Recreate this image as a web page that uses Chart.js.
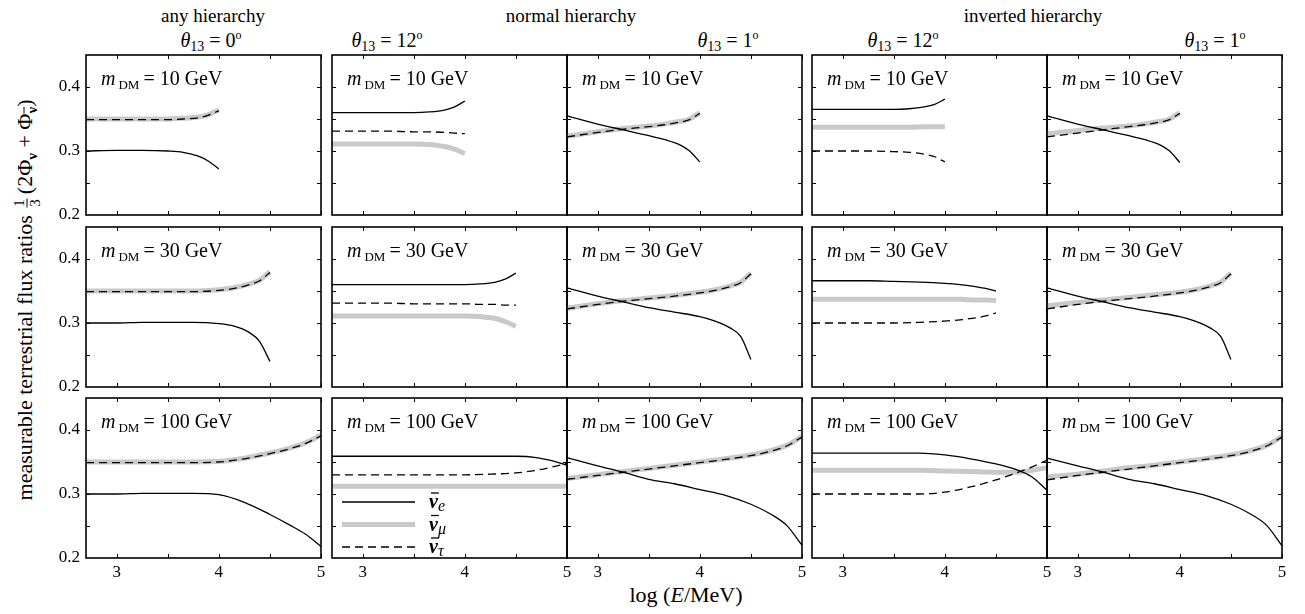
<!DOCTYPE html>
<html><head><meta charset="utf-8">
<script src="https://cdn.jsdelivr.net/npm/chart.js@4/dist/chart.umd.min.js"></script>
<style>
html,body{margin:0;padding:0;background:#fff;}
body{width:1305px;height:614px;position:relative;overflow:hidden;font-family:"Liberation Serif","Times New Roman",serif;color:#000;}
.lbl{position:absolute;white-space:nowrap;transform:translate(-50%,-50%);line-height:1;}
.cv{position:absolute;}
.th i{font-style:italic;}
.th sub{font-size:14px;vertical-align:-4px;line-height:0;}
.th sup{font-size:12px;vertical-align:8px;line-height:0;}
.frac{display:inline-flex;flex-direction:column;align-items:center;font-size:15px;vertical-align:middle;line-height:1;margin:0 4px 0 2px;}
.frac span:first-child{border-bottom:1px solid #000;padding:0 1px;}
#ytitle sub{font-size:15px;vertical-align:-5px;line-height:0;font-weight:bold;}
.ov{text-decoration:overline;}
</style></head><body>
<div class="lbl" style="left:213px;top:15px;font-size:19px">any hierarchy</div>
<div class="lbl" style="left:571px;top:15px;font-size:19px">normal hierarchy</div>
<div class="lbl" style="left:1033px;top:15px;font-size:19px">inverted hierarchy</div>
<div class="lbl th" style="left:211px;top:40px;font-size:20px"><i>θ</i><sub>13</sub> = 0<sup>o</sup></div>
<div class="lbl th" style="left:387px;top:40px;font-size:20px"><i>θ</i><sub>13</sub> = 12<sup>o</sup></div>
<div class="lbl th" style="left:728px;top:40px;font-size:20px"><i>θ</i><sub>13</sub> = 1<sup>o</sup></div>
<div class="lbl th" style="left:903px;top:40px;font-size:20px"><i>θ</i><sub>13</sub> = 12<sup>o</sup></div>
<div class="lbl th" style="left:1215px;top:40px;font-size:20px"><i>θ</i><sub>13</sub> = 1<sup>o</sup></div>
<div class="lbl" id="ytitle" style="left:27px;top:300px;font-size:22px;transform:translate(-50%,-50%) rotate(-90deg)">measurable terrestrial flux ratios&nbsp;<span class="frac"><span>1</span><span>3</span></span>(2Φ<sub>ν</sub> + Φ<sub class="ov">ν</sub>)</div>
<div class="lbl" style="left:686px;top:595px;font-size:22px">log (<i>E</i>/MeV)</div>
<script>
// ---- x sample positions (log10 E/MeV) ----
const X_10  = [2.7, 3.0, 3.25, 3.5, 3.65, 3.8, 3.9, 4.0];
const X_30  = [2.7, 3.0, 3.25, 3.5, 3.75, 4.0, 4.15, 4.3, 4.4, 4.5];
const X_100 = [2.7, 3.0, 3.25, 3.5, 3.75, 4.0, 4.25, 4.5, 4.7, 4.85, 5.0];

// ---- m_DM = 10 GeV ----
const any0_10_e   = [0.300,0.301,0.301,0.300,0.298,0.292,0.284,0.272];
const any0_10_mu  = [0.350,0.350,0.350,0.350,0.351,0.353,0.357,0.364];
const any0_10_tau = [0.349,0.349,0.349,0.349,0.350,0.352,0.356,0.363];
const nh12_10_e   = [0.360,0.360,0.360,0.360,0.361,0.364,0.369,0.378];
const nh12_10_mu  = [0.311,0.311,0.311,0.311,0.310,0.307,0.303,0.296];
const nh12_10_tau = [0.331,0.331,0.331,0.330,0.330,0.329,0.328,0.327];
const nh1_10_e    = [0.355,0.342,0.333,0.324,0.318,0.310,0.300,0.283];
const nh1_10_mu   = [0.323,0.330,0.335,0.339,0.342,0.346,0.350,0.360];
const nh1_10_tau  = [0.322,0.329,0.334,0.338,0.341,0.345,0.349,0.359];
const ih12_10_e   = [0.365,0.365,0.365,0.365,0.366,0.369,0.373,0.381];
const ih12_10_mu  = [0.337,0.337,0.337,0.337,0.337,0.338,0.338,0.338];
const ih12_10_tau = [0.300,0.300,0.300,0.299,0.298,0.295,0.291,0.283];
const ih1_10_e    = [0.355,0.342,0.333,0.324,0.318,0.310,0.300,0.282];
const ih1_10_mu   = [0.327,0.332,0.336,0.339,0.342,0.346,0.350,0.360];
const ih1_10_tau  = [0.322,0.328,0.333,0.338,0.341,0.345,0.349,0.359];

// ---- m_DM = 30 GeV ----
const any0_30_e   = [0.300,0.300,0.301,0.301,0.301,0.299,0.295,0.285,0.271,0.240];
const any0_30_mu  = [0.350,0.350,0.350,0.350,0.350,0.352,0.355,0.361,0.367,0.380];
const any0_30_tau = [0.349,0.349,0.349,0.349,0.349,0.351,0.354,0.360,0.366,0.379];
const nh12_30_e   = [0.360,0.360,0.360,0.360,0.360,0.360,0.361,0.364,0.369,0.378];
const nh12_30_mu  = [0.311,0.311,0.311,0.311,0.311,0.311,0.310,0.307,0.302,0.295];
const nh12_30_tau = [0.331,0.331,0.331,0.330,0.330,0.330,0.329,0.329,0.328,0.328];
const nh1_30_e    = [0.355,0.342,0.333,0.324,0.317,0.310,0.303,0.292,0.279,0.243];
const nh1_30_mu   = [0.323,0.330,0.335,0.339,0.343,0.348,0.352,0.358,0.364,0.378];
const nh1_30_tau  = [0.322,0.329,0.334,0.338,0.342,0.347,0.351,0.357,0.363,0.377];
const ih12_30_e   = [0.366,0.366,0.366,0.365,0.364,0.362,0.360,0.357,0.354,0.350];
const ih12_30_mu  = [0.337,0.337,0.337,0.337,0.337,0.337,0.337,0.336,0.336,0.335];
const ih12_30_tau = [0.300,0.300,0.300,0.300,0.301,0.303,0.305,0.308,0.311,0.316];
const ih1_30_e    = [0.355,0.342,0.333,0.324,0.317,0.310,0.303,0.292,0.279,0.243];
const ih1_30_mu   = [0.327,0.332,0.336,0.340,0.344,0.348,0.352,0.358,0.364,0.378];
const ih1_30_tau  = [0.322,0.329,0.334,0.338,0.342,0.347,0.351,0.357,0.363,0.377];

// ---- m_DM = 100 GeV ----
const any0_100_e   = [0.300,0.300,0.301,0.301,0.301,0.299,0.287,0.268,0.251,0.237,0.218];
const any0_100_mu  = [0.350,0.350,0.350,0.350,0.350,0.351,0.356,0.364,0.372,0.380,0.392];
const any0_100_tau = [0.349,0.349,0.349,0.349,0.349,0.350,0.355,0.363,0.371,0.379,0.391];
const nh12_100_e   = [0.359,0.359,0.359,0.359,0.359,0.359,0.359,0.359,0.357,0.352,0.345];
const nh12_100_mu  = [0.312,0.312,0.312,0.312,0.312,0.312,0.312,0.312,0.312,0.312,0.312];
const nh12_100_tau = [0.330,0.330,0.330,0.330,0.330,0.330,0.331,0.333,0.337,0.342,0.348];
const nh1_100_e    = [0.357,0.344,0.334,0.323,0.316,0.307,0.298,0.284,0.268,0.251,0.220];
const nh1_100_mu   = [0.324,0.330,0.335,0.340,0.345,0.350,0.355,0.361,0.368,0.376,0.390];
const nh1_100_tau  = [0.323,0.329,0.334,0.339,0.344,0.349,0.354,0.360,0.367,0.375,0.389];
const ih12_100_e   = [0.364,0.364,0.364,0.364,0.364,0.361,0.355,0.347,0.338,0.327,0.306];
const ih12_100_mu  = [0.337,0.337,0.337,0.337,0.337,0.336,0.335,0.334,0.334,0.337,0.341];
const ih12_100_tau = [0.300,0.300,0.300,0.300,0.300,0.303,0.311,0.322,0.333,0.342,0.353];
const ih1_100_e    = [0.356,0.344,0.334,0.323,0.316,0.307,0.298,0.284,0.268,0.251,0.219];
const ih1_100_mu   = [0.327,0.331,0.336,0.341,0.345,0.350,0.355,0.361,0.368,0.376,0.390];
const ih1_100_tau  = [0.322,0.329,0.334,0.339,0.344,0.349,0.354,0.360,0.367,0.375,0.389];

// ---- masses & ticks ----
const masses = [10, 30, 100];
const xTickLabels = [3, 4, 5];
const yTickLabels = [0.2, 0.3, 0.4];
const xMarks = [3, 3.5, 4, 4.5, 5];
const yMarks = [0.25, 0.3, 0.35, 0.4];
const legendSubs = ['e', 'μ', 'τ'];

const grid = [
  [[X_10, any0_10_e, any0_10_mu, any0_10_tau],[X_10, nh12_10_e, nh12_10_mu, nh12_10_tau],[X_10, nh1_10_e, nh1_10_mu, nh1_10_tau],[X_10, ih12_10_e, ih12_10_mu, ih12_10_tau],[X_10, ih1_10_e, ih1_10_mu, ih1_10_tau]],
  [[X_30, any0_30_e, any0_30_mu, any0_30_tau],[X_30, nh12_30_e, nh12_30_mu, nh12_30_tau],[X_30, nh1_30_e, nh1_30_mu, nh1_30_tau],[X_30, ih12_30_e, ih12_30_mu, ih12_30_tau],[X_30, ih1_30_e, ih1_30_mu, ih1_30_tau]],
  [[X_100, any0_100_e, any0_100_mu, any0_100_tau],[X_100, nh12_100_e, nh12_100_mu, nh12_100_tau],[X_100, nh1_100_e, nh1_100_mu, nh1_100_tau],[X_100, ih12_100_e, ih12_100_mu, ih12_100_tau],[X_100, ih1_100_e, ih1_100_mu, ih1_100_tau]]
];

const FONT = '"Liberation Serif", "Times New Roman", serif';
const colLeft = [86, 332, 567, 812, 1047];
const rowTop = [55, 227, 398];
const PW = 235, PH = 160, PAD = 40;
const GREY = '#c9c9c9';

const framePlugin = {
  id: 'frame',
  afterDraw(chart) {
    const {ctx, chartArea: a, scales: {x, y}} = chart;
    ctx.save();
    ctx.strokeStyle = '#000';
    ctx.lineWidth = 1;
    ctx.beginPath();
    xMarks.forEach(v => {
      const px = Math.round(x.getPixelForValue(v)) + 0.5;
      ctx.moveTo(px, a.bottom); ctx.lineTo(px, a.bottom - 4);
      ctx.moveTo(px, a.top); ctx.lineTo(px, a.top + 4);
    });
    yMarks.forEach(v => {
      const py = Math.round(y.getPixelForValue(v)) + 0.5;
      ctx.moveTo(a.left, py); ctx.lineTo(a.left + 4, py);
      ctx.moveTo(a.right, py); ctx.lineTo(a.right - 4, py);
    });
    ctx.stroke();
    ctx.lineWidth = 1.6;
    ctx.strokeRect(a.left, a.top, a.right - a.left, a.bottom - a.top);
    ctx.restore();
  }
};

const massPlugin = {
  id: 'massLabel',
  afterDraw(chart, args, opts) {
    const {ctx, chartArea: a} = chart;
    ctx.save();
    ctx.fillStyle = '#000';
    ctx.textBaseline = 'alphabetic';
    let x = a.left + 15, y = a.top + 30;
    ctx.font = 'italic 20px ' + FONT;
    ctx.fillText('m', x, y); x += ctx.measureText('m').width + 3;
    ctx.font = '13px ' + FONT;
    ctx.fillText('DM', x, y + 4); x += ctx.measureText('DM').width + 4;
    ctx.font = '20px ' + FONT;
    ctx.fillText('= ' + opts.mass + ' GeV', x, y);
    ctx.restore();
  }
};

const legendPlugin = {
  id: 'nuLegend',
  afterDatasetsDraw(chart, args, opts) {
    if (!opts.show) return;
    const {ctx, chartArea: a} = chart;
    const styles = [{c:'#000', w:1.3, d:[]}, {c:GREY, w:5, d:[]}, {c:'#000', w:1.3, d:[8,5]}];
    legendSubs.forEach((sub, i) => {
      const s = styles[i];
      const y = a.top + 104 + i * 22.5;
      ctx.save();
      ctx.strokeStyle = s.c; ctx.lineWidth = s.w; ctx.setLineDash(s.d);
      ctx.beginPath(); ctx.moveTo(a.left + 10, y); ctx.lineTo(a.left + 83, y); ctx.stroke();
      ctx.restore();
      ctx.save();
      ctx.fillStyle = '#000'; ctx.strokeStyle = '#000';
      const x0 = a.left + 97;
      ctx.font = 'bold italic 20px ' + FONT;
      ctx.fillText('ν', x0, y + 6);
      const w = ctx.measureText('ν').width;
      ctx.font = 'italic 16px ' + FONT;
      ctx.fillText(sub, x0 + w, y + 9);
      ctx.lineWidth = 1.3;
      ctx.beginPath(); ctx.moveTo(x0 + 2, y - 9); ctx.lineTo(x0 + w + 1, y - 9); ctx.stroke();
      ctx.restore();
    });
  }
};

function makePanel(r, c) {
  const [xs, e, mu, tau] = grid[r][c];
  const cv = document.createElement('canvas');
  cv.className = 'cv';
  cv.width = PW + 2 * PAD; cv.height = PH + 2 * PAD;
  cv.style.width = cv.width + 'px'; cv.style.height = cv.height + 'px';
  cv.style.left = (colLeft[c] - PAD) + 'px';
  cv.style.top = (rowTop[r] - PAD) + 'px';
  document.body.appendChild(cv);
  const pts = ys => xs.map((x, i) => ({x: x, y: ys[i]}));
  const common = {pointRadius: 0, fill: false, cubicInterpolationMode: 'monotone'};
  new Chart(cv, {
    type: 'line',
    data: {datasets: [
      Object.assign({label: 'νe', data: pts(e), borderColor: '#000', borderWidth: 1.3}, common),
      Object.assign({label: 'ντ', data: pts(tau), borderColor: '#000', borderWidth: 1.3, borderDash: [8, 5]}, common),
      Object.assign({label: 'νμ', data: pts(mu), borderColor: GREY, borderWidth: 5, borderCapStyle: 'butt'}, common)
    ]},
    options: {
      responsive: false, animation: false, devicePixelRatio: 1, events: [],
      layout: {padding: {left: 0, bottom: 0, top: PAD, right: PAD}},
      plugins: {legend: {display: false}, tooltip: {enabled: false},
        massLabel: {mass: masses[r]}, nuLegend: {show: r === 2 && c === 1}},
      scales: {
        x: {
          type: 'linear', min: 2.7, max: 5,
          grid: {display: false, drawTicks: false}, border: {display: false},
          afterBuildTicks: s => { s.ticks = xTickLabels.map(v => ({value: v})); },
          afterFit: s => { s.height = PAD; },
          ticks: {display: r === 2, padding: 4, autoSkip: false, maxRotation: 0, color: '#000',
                  font: {family: FONT, size: 17}, callback: v => String(v)}
        },
        y: {
          type: 'linear', min: 0.2, max: 0.45,
          grid: {display: false, drawTicks: false}, border: {display: false},
          afterBuildTicks: s => { s.ticks = yTickLabels.map(v => ({value: v})); },
          afterFit: s => { s.width = PAD; },
          ticks: {display: c === 0, padding: 6, autoSkip: false, color: '#000',
                  font: {family: FONT, size: 17}, callback: v => v.toFixed(1)}
        }
      }
    },
    plugins: [framePlugin, massPlugin, legendPlugin]
  });
}

for (let r = 0; r < 3; r++) for (let c = 0; c < 5; c++) makePanel(r, c);
</script>
</body></html>
